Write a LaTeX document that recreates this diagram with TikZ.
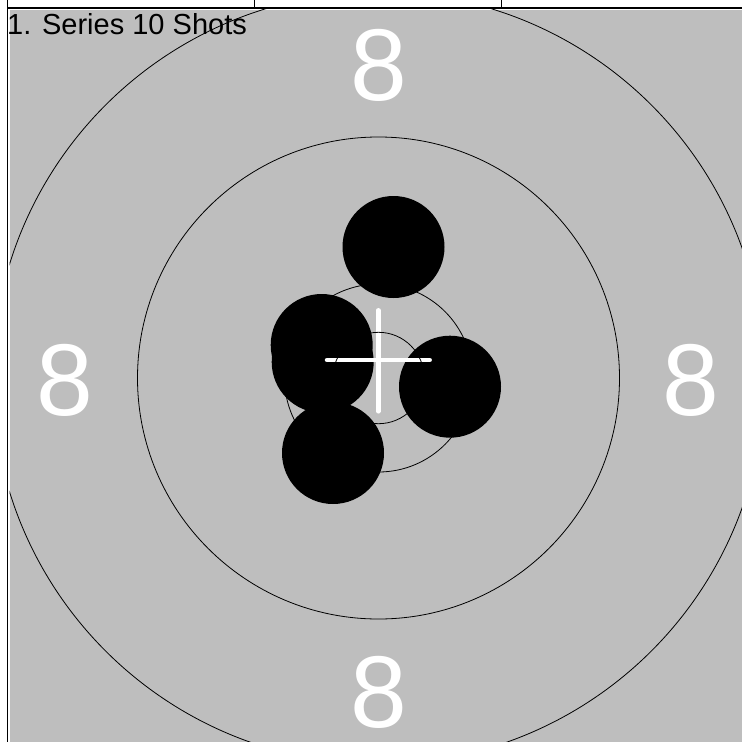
\documentclass[tikz,border=0pt]{standalone}
\usepackage{fontspec}
\setmainfont{Liberation Sans}
\usepackage{xcolor}
\usepackage{tikz}
\definecolor{targetgray}{RGB}{190,190,190}

\begin{document}
\begin{tikzpicture}[x=1pt,y=-1pt]
\useasboundingbox (0,0) rectangle (742,742);
\fill[white] (0,0) rectangle (742,742);
\fill[targetgray] (9.5,9.5) rectangle (742,742);
\draw[line width=1.2pt] (7.5,0) -- (7.5,742);
\draw[line width=1.4pt] (7.5,7.8) -- (742,7.8);
\draw[line width=1.2pt] (254.7,0) -- (254.7,7.5);
\draw[line width=1.2pt] (501.7,0) -- (501.7,7.5);
\coordinate (center) at (378.5,378);
\node[white, inner sep=0pt, anchor=base, font=\fontsize{102}{102}\selectfont] (ringtop) at (378.5,100) {8};
\node[white, inner sep=0pt, anchor=base, font=\fontsize{102}{102}\selectfont] (ringleft) at (65.3,415) {8};
\node[white, inner sep=0pt, anchor=base, font=\fontsize{102}{102}\selectfont] (ringright) at (691,415) {8};
\node[white, inner sep=0pt, anchor=base, font=\fontsize{102}{102}\selectfont] (ringbottom) at (378.5,727) {8};
\fill[black] (393.5,247) circle (51);
\fill[black] (450,386.7) circle (51);
\fill[black] (321.7,345) circle (51);
\fill[black] (322.7,362) circle (51);
\fill[black] (333,453) circle (51);
\coordinate (crosstop) at (378.3,310.3);
\coordinate (crossbottom) at (378.3,411.3);
\coordinate (crossleft) at (327,360);
\coordinate (crossright) at (429.7,360);
\draw[white, line width=4.5pt, line cap=round] (crosstop) -- (crossbottom);
\draw[white, line width=4.5pt, line cap=round] (crossleft) -- (crossright);
\begin{scope}
\clip (9.5,9.5) rectangle (742,742);
\draw[line width=0.8pt] (center) circle (45.7);
\draw[line width=0.8pt] (center) circle (94);
\draw[line width=0.8pt] (center) circle (241);
\draw[line width=0.8pt] (center) circle (386);
\end{scope}
\node[inner sep=0pt, anchor=base west, font=\fontsize{29}{29}\selectfont] (series) at (7,34.3) {1. Series 10 Shots};
\end{tikzpicture}
\end{document}
